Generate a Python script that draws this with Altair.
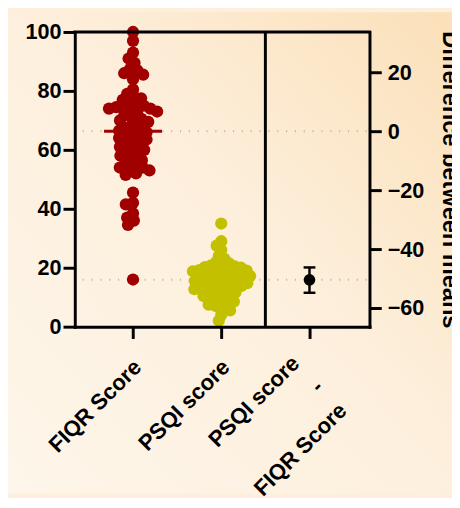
import math
import altair as alt
import pandas as pd

# ---------------- data ----------------
groups = ["FIQR Score", "PSQI score"]
point_colors = ["#a00000", "#c3c000"]
mean_colors = ["#a00000", "#8c8a00"]

fiqr = [100, 97, 93, 91, 89.5, 87.5, 87, 86, 85.5, 84,
        80.5, 79, 78, 77.5, 77, 76, 75, 75, 74.5, 74.5,
        74, 74, 73.5, 73, 72.5, 72, 71, 70.5, 70, 69.5,
        68, 67.5, 67, 66.5, 66, 65.5, 65, 64.5, 64, 63.5,
        63, 62.5, 62, 61, 60.5, 60, 59, 58.5, 58, 57,
        56.5, 55.5, 55, 54, 54, 53.5, 53, 52, 51.5, 45.5,
        42, 41.5, 38.5, 37, 36, 34.5, 16]
psqi = [35, 29, 27.5, 26, 24, 23, 22, 21.5, 21, 20.8,
        20.5, 20.2, 20, 19.7, 19.5, 19.2, 19, 18.8, 18.5, 18.2,
        18, 17.8, 17.5, 17.2, 17, 16.8, 16.5, 16.2, 16, 15.8,
        15.5, 15.2, 15, 14.8, 14.5, 14.2, 14, 13.8, 13.5, 13.2,
        13, 12.7, 12.4, 12, 11.6, 11.2, 10.8, 10.4, 10, 9.5,
        9, 8.5, 8, 7.5, 7, 6, 5.5, 4, 2]
group_means = [66.3, 15.9]

x_labels = ["FIQR Score", "PSQI score", "PSQI score\n-\nFIQR Score"]
diff_mean = -50.4
diff_ci = [-54.8, -46.2]

left_ticks = [0, 20, 40, 60, 80, 100]
right_ticks = [20, 0, -20, -40, -60]
right_title = "Difference between means"

# ---------------- layout constants ----------------
W, H = 300, 300
PAD = {"left": 68, "top": 20, "right": 84, "bottom": 170}
XDOM = [-0.66, 2.68]
YDOM = [0, 100]
RDOM = [YDOM[0] - group_means[0], YDOM[1] - group_means[0]]
PX_X = W / (XDOM[1] - XDOM[0])
PX_Y = H / (YDOM[1] - YDOM[0])
FONT = "Liberation Sans"
DIFF_POS = len(groups)
SWARM_GAP = [7.5, 6.5]


def swarm(values, d):
    """simple beeswarm: horizontal pixel offsets so points do not collide"""
    placed = []
    res = [0.0] * len(values)
    order = sorted(range(len(values)), key=lambda i: -values[i])
    for i in order:
        y = values[i] * PX_Y
        near = []
        cands = [0.0]
        for px, py in placed:
            dy = abs(py - y)
            if dy < d:
                w = math.sqrt(d * d - dy * dy)
                near.append((px, w))
                cands += [px - w, px + w]
        cands.sort(key=lambda c: (abs(c), c))
        for c in cands:
            if all(abs(c - px) >= w - 1e-6 for px, w in near):
                res[i] = c
                placed.append((c, y))
                break
    return res


rows = []
for gi, vals in enumerate([fiqr, psqi]):
    offs = swarm(vals, SWARM_GAP[gi])
    for v, o in zip(vals, offs):
        rows.append({"group": groups[gi], "x": gi + o / PX_X, "value": v})
pts = pd.DataFrame(rows)

means = pd.DataFrame({
    "group": groups,
    "mean": group_means,
    "x": [gi - 29.5 / PX_X for gi in range(len(groups))],
    "x2": [gi + 29.5 / PX_X for gi in range(len(groups))],
})

labels = pd.DataFrame({"label": x_labels, "x": list(range(len(x_labels)))})
diff_df = pd.DataFrame({"x": [DIFF_POS], "mean": [diff_mean],
                        "lo": [diff_ci[0]], "hi": [diff_ci[1]]})
caps = pd.DataFrame({"v": diff_ci, "x": [DIFF_POS - 6 / PX_X] * 2,
                     "x2": [DIFF_POS + 6 / PX_X] * 2})
divider = pd.DataFrame({"x": [(len(groups) - 1 + DIFF_POS) / 2]})
bg = pd.DataFrame({"k": [0]})

# ---------------- encodings ----------------
LINE = dict(domain=True, domainColor="black", domainWidth=3, domainCap="square",
            grid=False, tickSize=12, tickWidth=3, tickColor="black", zindex=1)
x_axis = alt.Axis(values=list(range(len(x_labels))), labels=False, title=None, **LINE)
xscale = alt.Scale(domain=XDOM, nice=False, zero=False)
left_axis = alt.Axis(orient="left", values=left_ticks,
                     labelFont=FONT, labelFontWeight="bold", labelFontSize=22,
                     labelColor="black", labelPadding=2, title=None, **LINE)
lscale = alt.Scale(domain=YDOM, nice=False, zero=False)
right_axis = alt.Axis(orient="right", values=right_ticks,
                      labelFont=FONT, labelFontWeight="bold", labelFontSize=22,
                      labelColor="black", labelPadding=6,
                      title=right_title, titleFont=FONT, titleFontWeight="bold",
                      titleFontSize=24, titleColor="black", titlePadding=14, **LINE)
rscale = alt.Scale(domain=RDOM, nice=False, zero=False)

X = lambda f: alt.X(f, scale=xscale, axis=x_axis)

backdrop = alt.Chart(bg).mark_rect(
    fill=alt.Gradient(
        gradient="linear", x1=0, y1=1, x2=1, y2=0,
        stops=[alt.GradientStop(color="#fdf6ea", offset=0),
               alt.GradientStop(color="#fdefdc", offset=0.55),
               alt.GradientStop(color="#fbe0b9", offset=1)])
).encode(x=alt.value(-PAD["left"]), x2=alt.value(W + PAD["right"]),
         y=alt.value(-PAD["top"]), y2=alt.value(H + PAD["bottom"]))

top_border = alt.Chart(bg).mark_rule(color="black", strokeWidth=3, strokeCap="square").encode(
    x=alt.value(0), x2=alt.value(W), y=alt.value(0))

dotted = alt.Chart(means).mark_rule(
    color="#c2b9a8", strokeWidth=2, strokeDash=[1.2, 7.8]
).encode(x=alt.value(8), x2=alt.value(W),
         y=alt.Y("mean:Q", scale=lscale, axis=left_axis))

mean_lines = alt.Chart(means).mark_rule(strokeWidth=3).encode(
    x=X("x:Q"), x2="x2:Q",
    y=alt.Y("mean:Q", scale=lscale, axis=left_axis),
    color=alt.Color("group:N", scale=alt.Scale(domain=groups, range=mean_colors),
                    legend=None))

points = alt.Chart(pts).mark_circle(size=155, opacity=1).encode(
    x=X("x:Q"),
    y=alt.Y("value:Q", scale=lscale, axis=left_axis),
    fill=alt.Fill("group:N", scale=alt.Scale(domain=groups, range=point_colors),
                  legend=None))

div_rule = alt.Chart(divider).mark_rule(color="black", strokeWidth=3).encode(
    x=X("x:Q"))

single_labels = alt.Chart(labels[labels["x"] < DIFF_POS]).mark_text(
    angle=315, align="right", baseline="top", font=FONT, fontWeight="bold",
    fontSize=22.5, color="black", dx=-2, dy=-2
).encode(x=X("x:Q"), y=alt.value(H + 30), text="label:N")

diff_label = alt.Chart(labels[labels["x"] == DIFF_POS]).mark_text(
    angle=315, align="right", baseline="top", font=FONT, fontWeight="bold",
    fontSize=22.5, color="black", lineBreak="\n", lineHeight=34, dx=-12.5, dy=-18
).encode(x=X("x:Q"), y=alt.value(H + 30), text="label:N")

left_layer = alt.layer(
    backdrop, dotted, mean_lines, points, div_rule, top_border,
    single_labels, diff_label
).resolve_scale(color="independent", fill="independent")

err = alt.Chart(diff_df).mark_rule(color="black", strokeWidth=2.5).encode(
    x=X("x:Q"), y=alt.Y("lo:Q", scale=rscale, axis=right_axis), y2="hi:Q")
cap_rules = alt.Chart(caps).mark_rule(color="black", strokeWidth=2.5).encode(
    x=X("x:Q"), x2="x2:Q", y=alt.Y("v:Q", scale=rscale, axis=right_axis))
diff_pt = alt.Chart(diff_df).mark_circle(size=140, color="black", opacity=1).encode(
    x=X("x:Q"), y=alt.Y("mean:Q", scale=rscale, axis=right_axis))

right_layer = alt.layer(err, cap_rules, diff_pt)

chart = alt.layer(left_layer, right_layer).resolve_scale(y="independent").properties(
    width=W, height=H, background="#fdefdb",
    padding=PAD,
    autosize=alt.AutoSizeParams(type="none"),
).configure_view(stroke="transparent")

chart.save("out.html", embed_options={"renderer": "svg", "actions": False})
